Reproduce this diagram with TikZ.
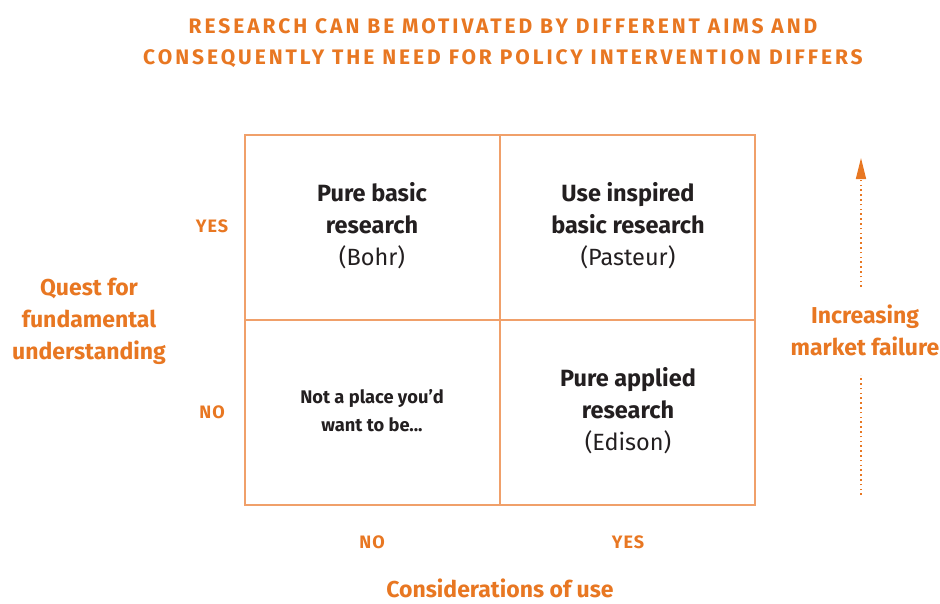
\documentclass[tikz,border=0pt]{standalone}
\usepackage{fontspec}
\setmainfont{Fira Sans}
\newfontfamily\titlefont[LetterSpace=14]{Fira Sans}
\newfontfamily\tickfont[LetterSpace=6]{Fira Sans}
\usetikzlibrary{arrows.meta}
\definecolor{org}{HTML}{E87722}
\definecolor{grid}{HTML}{F0A06A}
\definecolor{txt}{HTML}{231F20}
\tikzset{
  cell/.style={align=center,text=txt,font=\fontsize{23.5}{32}\selectfont},
  small/.style={align=center,text=txt,font=\bfseries\fontsize{18.3}{28}\selectfont},
  lab/.style={align=center,text=org,font=\bfseries\fontsize{23}{32}\selectfont},
  tick/.style={text=org,font=\tickfont\bfseries\fontsize{18}{20}\selectfont},
  dots/.style={org,line width=1.6pt,dash pattern=on 1.6pt off 3.2pt},
}
\begin{document}
\begin{tikzpicture}[x=1pt,y=-1pt]
\useasboundingbox (0,0) rectangle (940,603);
\node[text=org,font=\titlefont\bfseries\fontsize{21}{31}\selectfont,align=center] (title) at (503,43) {RESEARCH CAN BE MOTIVATED BY DIFFERENT AIMS AND\\CONSEQUENTLY THE NEED FOR POLICY INTERVENTION DIFFERS};
\draw[grid,line width=2pt] (245,135) rectangle (755,505);
\draw[grid,line width=2pt] (500,135) -- (500,505);
\draw[grid,line width=2pt] (245,320) -- (755,320);
\node[cell] (pb) at (372,226) {\textbf{Pure basic}\\\textbf{research}\\(Bohr)};
\node[cell] (ub) at (628,226) {\textbf{Use inspired}\\\textbf{basic research}\\(Pasteur)};
\node[small] (np) at (372,411) {Not a place you’d\\want to be...};
\node[cell] (pa) at (628,411) {\textbf{Pure applied}\\\textbf{research}\\(Edison)};
\node[tick] (y1) at (212,226) {YES};
\node[tick] (n1) at (212,412) {NO};
\node[tick] (n2) at (372,542) {NO};
\node[tick] (y2) at (628,542) {YES};
\node[lab] (q) at (89,321) {Quest for\\fundamental\\understanding};
\node[lab,anchor=base,inner sep=0pt] (c) at (500,597) {Considerations of use};
\node[lab] (m) at (865,330) {Increasing\\market failure};
\coordinate (a0) at (861,495);
\coordinate (a1) at (861,375);
\coordinate (a2) at (861,287);
\coordinate (a3) at (861,158);
\draw[dots] (a0) -- (a1);
\draw[dots] (a2) -- (861,180);
\draw[org,-{Triangle[length=21pt,width=10pt]},line width=1.6pt,shorten <=14pt] (861,181) -- (a3);
\end{tikzpicture}
\end{document}
